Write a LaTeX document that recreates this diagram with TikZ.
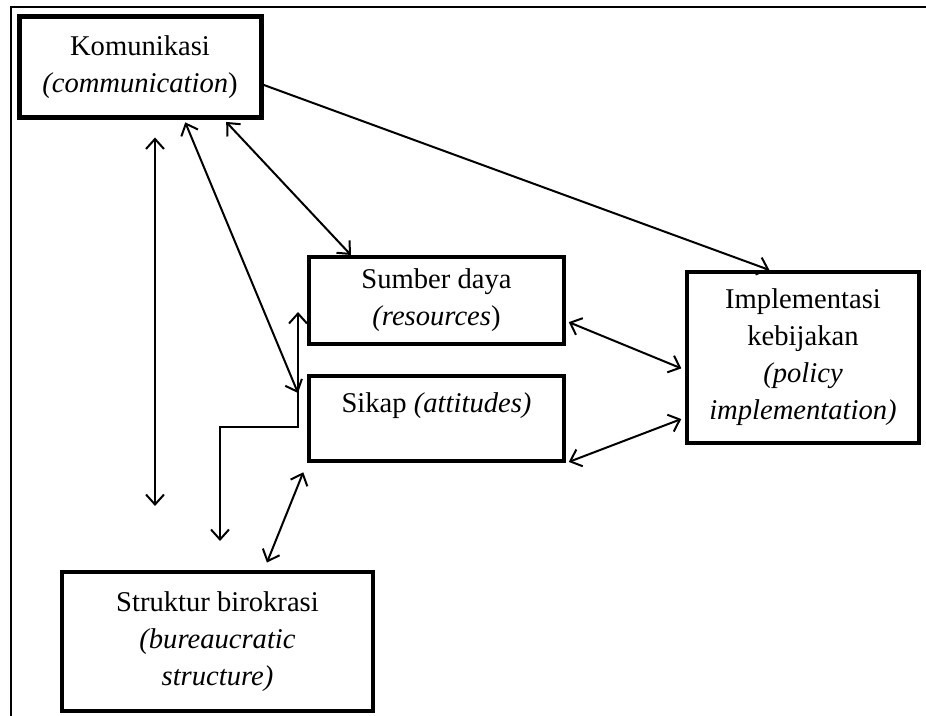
\documentclass[tikz,border=0pt]{standalone}
\usepackage{fontspec}
\setmainfont{Liberation Serif}
\usetikzlibrary{arrows.meta, positioning}
\tikzset{
	box/.style={draw, line width=2pt, align=center, inner sep=0pt,
		font=\fontsize{14.3pt}{18.5pt}\selectfont},
	link/.style={line width=1pt, {Straight Barb[length=5pt,width=9pt]}-{Straight Barb[length=5pt,width=9pt]}}
}

\begin{document}
\begin{tikzpicture}[
	x=0.5pt, y=-0.5pt,
	oneway/.style={line width=1pt, -{Straight Barb[length=5pt,width=9pt]}},
	frame/.style={line width=1pt}]
	\useasboundingbox (0,0) rectangle (926,716);
	\draw[frame] (11,716) -- (11,7) -- (926,7);

	\node[box, line width=2.5pt, minimum width=121pt, minimum height=50.5pt] (kom) at (140,67.5)
		{Komunikasi\\\textit{(communication})};
	\node[box, minimum width=127.5pt, minimum height=43.5pt] (sumber) at (436.5,300.5)
		{Sumber daya\\\textit{(resources})};
	\node[box, minimum width=127.5pt, minimum height=42.5pt, text depth=16pt] (sikap) at (436.5,418.5)
		{Sikap \textit{(attitudes)}};
	\node[box, minimum width=116pt, minimum height=85.5pt] (impl) at (803,357.5)
		{Implementasi\\kebijakan\\\textit{(policy}\\\textit{implementation)}};
	\node[box, minimum width=155.5pt, minimum height=69.5pt] (struktur) at (217.5,641.5)
		{Struktur birokrasi\\\textit{(bureaucratic}\\\textit{structure)}};

	% free ends beside the boxes
	\coordinate (sumber-in) at (298,312);
	\coordinate (sikap-in) at (298,393);
	\coordinate (struktur-in) at (220,541);

	\draw[oneway] (kom.-8) -- (impl.111);
	\draw[link, shorten <=1pt] (kom.-32) -- (sumber.152);
	\draw[link, shorten <=1pt] (kom.-50) -- (sikap-in);
	\draw[link, shorten <=8.5pt, shorten >=32pt] (kom.south -| 155,0) -- (struktur.north -| 155,0);
	\draw[link] (sumber-in) -- (sumber-in |- 0,427) -| (struktur-in);
	\draw[link, shorten <=4pt, shorten >=5pt] (struktur.57) -- (sikap.south west);
	\draw[link, shorten <=1.5pt, shorten >=2pt] (sumber.-9) -- (impl.186);
	\draw[link, shorten <=1.5pt, shorten >=2pt] (sikap.south east) -- (impl.207);
\end{tikzpicture}
\end{document}
